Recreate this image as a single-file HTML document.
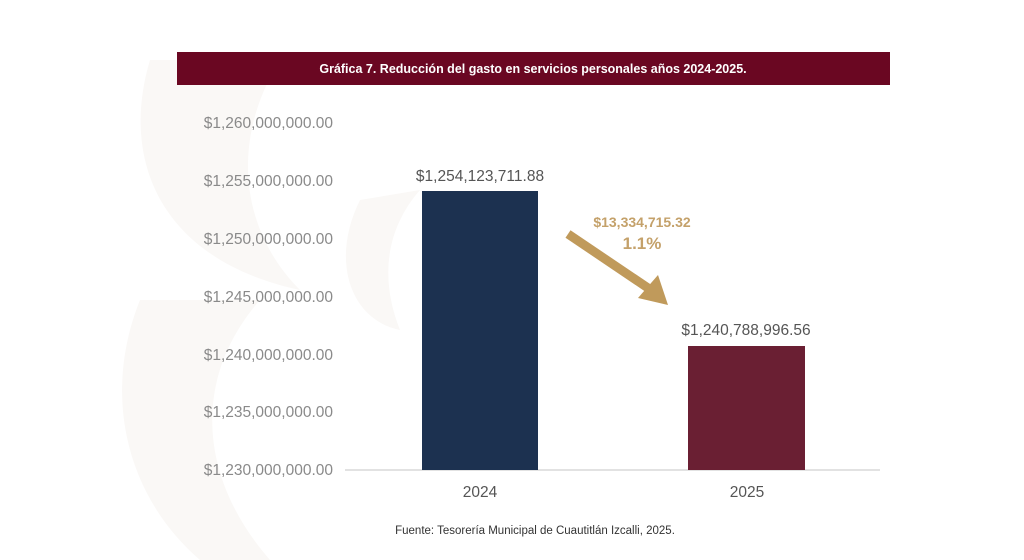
<!DOCTYPE html>
<html><head><meta charset="utf-8"><style>
body{margin:0;width:1024px;height:560px;background:#fff;overflow:hidden;font-family:"Liberation Sans",sans-serif;}
</style></head><body>
<svg width="1024" height="560" xmlns="http://www.w3.org/2000/svg" style="position:absolute;left:0;top:0">
<g fill="#faf8f6">
<path d="M150 60 C120 160 160 260 300 290 C240 230 230 140 280 60 Z"/>
<path d="M140 300 C100 400 130 500 200 560 L270 560 C200 480 190 380 260 300 Z"/>
<path d="M360 200 C330 260 350 320 400 330 C380 280 385 230 420 190 Z"/>
</g>
<rect x="177" y="52" width="713" height="33" fill="#6a0722"/>
<text x="533" y="73" fill="#fff" font-size="12.5" font-weight="bold" text-anchor="middle">Gráfica 7. Reducción del gasto en servicios personales años 2024-2025.</text>
<g fill="#8a8a8a" font-size="15.5" text-anchor="end">
<text x="333" y="128">$1,260,000,000.00</text>
<text x="333" y="186">$1,255,000,000.00</text>
<text x="333" y="244">$1,250,000,000.00</text>
<text x="333" y="302">$1,245,000,000.00</text>
<text x="333" y="360">$1,240,000,000.00</text>
<text x="333" y="417">$1,235,000,000.00</text>
<text x="333" y="475">$1,230,000,000.00</text>
</g>
<line x1="345" y1="470" x2="880" y2="470" stroke="#d9d9d9" stroke-width="1.5"/>
<rect x="422" y="191" width="116" height="279" fill="#1c3150"/>
<rect x="688" y="346" width="117" height="124" fill="#6a1f33"/>
<g fill="#555" font-size="15.5" text-anchor="middle">
<text x="480" y="181">$1,254,123,711.88</text>
<text x="746" y="335">$1,240,788,996.56</text>
<text x="480" y="497">2024</text>
<text x="747" y="497">2025</text>
</g>
<text x="642" y="227" fill="#c4a16a" font-size="14" font-weight="bold" text-anchor="middle">$13,334,715.32</text>
<text x="642" y="249" fill="#c4a16a" font-size="17" font-weight="bold" text-anchor="middle">1.1%</text>
<line x1="568" y1="234" x2="648" y2="288" stroke="#c09a5b" stroke-width="9"/>
<polygon points="638,298 668,305 658,275" fill="#c09a5b"/>
<text x="535" y="534" fill="#333" font-size="11.5" text-anchor="middle">Fuente: Tesorería Municipal de Cuautitlán Izcalli, 2025.</text>
</svg>
</body></html>
